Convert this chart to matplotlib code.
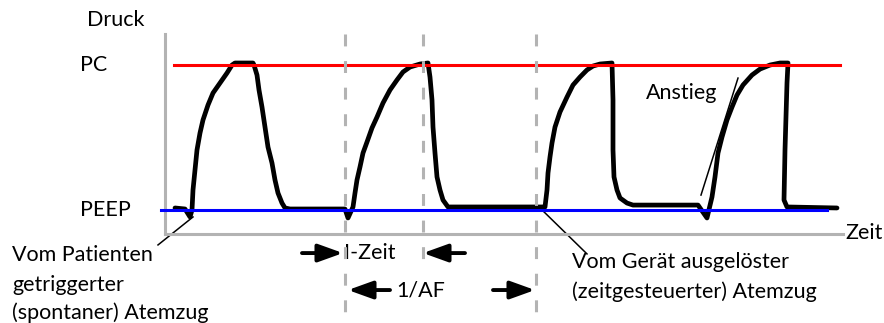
import matplotlib
matplotlib.use('Agg')
import matplotlib.pyplot as plt

plt.rcParams['font.family'] = ['Lato', 'DejaVu Sans']

## Druckkurve (Zeit, Druck relativ: PEEP = 0, PC = 10)
zeit = [1.0, 2.0, 2.5, 2.7, 2.8, 3.0, 3.2, 3.5, 3.8, 4.3, 4.8, 5.5, 6.2, 6.7, 7.0,
        8.8, 8.9, 9.2, 9.4, 9.7, 10.0, 10.3, 10.7, 11.0, 11.3, 11.7, 12.0, 12.5,
        18.0, 18.3, 18.8, 19.0, 19.2, 19.5, 19.8, 20.2, 20.7, 21.2, 21.8, 22.5, 23.2,
        23.8, 24.5, 25.5, 26.3, 26.5, 26.7, 26.8, 27.0, 27.2, 27.5, 27.8, 28.3,
        37.8, 38.0, 38.2, 38.3, 38.5, 38.7, 39.0, 39.5, 40.2, 40.8, 41.5, 42.2, 42.8,
        43.5, 44.7, 44.8, 44.8, 44.9, 45.2, 45.5, 46.2, 46.8,
        53.3, 54.2, 54.7, 55.0, 55.3, 55.7, 56.2, 56.7, 57.2, 57.8, 58.7, 59.5, 60.5,
        61.5, 62.3, 62.2, 62.0, 61.9, 62.2, 67.2]
druck = [0.14, 0.07, -0.48, 0.0, 1.38, 2.76, 4.14, 5.31, 6.21, 7.24, 8.07, 8.76, 9.45,
         10.0, 10.14,
         10.14, 10.0, 9.31, 8.28, 7.10, 5.72, 4.34, 3.24, 2.07, 1.17, 0.48, 0.14, 0.07,
         0.07, -0.55, 0.21, 1.17, 2.07, 2.97, 3.93, 4.69, 5.66, 6.41, 7.38, 8.28, 8.97,
         9.52, 9.86, 10.07, 10.14, 9.17, 7.59, 5.72, 3.93, 2.28, 1.38, 0.69, 0.21,
         0.21, 0.21, 1.38, 2.55, 3.66, 4.62, 5.72, 6.76, 7.79, 8.62, 9.17, 9.66, 9.93,
         10.07, 10.14, 7.59, 4.14, 2.28, 1.38, 0.83, 0.48, 0.34,
         0.34, -0.55, 0.90, 2.28, 3.93, 5.03, 6.21, 7.10, 7.93, 8.62, 9.31, 9.72, 10.0,
         10.14, 10.14, 8.76, 4.14, 0.69, 0.21, 0.14]

pc = 10.0
peep = 0.0
pc_bereich = [0.9, 67.5]
peep_bereich = [-0.4, 66.2]
marken = [18.0, 25.8, 37.1]          # gestrichelte Zeitmarken
marken_unten = [-7.8, -3.6, -7.8]
anstieg_t = [53.6, 57.3]
anstieg_p = [1.03, 9.10]

fig = plt.figure(figsize=(8.84, 3.23), dpi=100)
ax = fig.add_axes([165/884, 1-234/323, (843-165)/884, 200/323])
ax.set_xlim(0, 67.8)
ax.set_ylim(-1.655, 12.14)
for s in ['top', 'right']:
    ax.spines[s].set_visible(False)
for s in ['left', 'bottom']:
    ax.spines[s].set_color('#b3b3b3')
    ax.spines[s].set_linewidth(2.2)
ax.set_xticks([])
ax.set_yticks([])

grau = '#b3b3b3'
for m, u in zip(marken, marken_unten):
    ax.plot([m, m], [12.14, u], color=grau, lw=2.2, dashes=(3.9, 4.8),
            clip_on=False, zorder=4)

ax.plot(zeit, druck, color='black', lw=3.4, solid_joinstyle='round',
        solid_capstyle='round', zorder=2)
ax.plot(pc_bereich, [pc, pc], color='#ff0000', lw=2.2, clip_on=False, zorder=3)
ax.plot(peep_bereich, [peep, peep], color='#0000ff', lw=2.2, clip_on=False, zorder=3)
ax.plot(anstieg_t, anstieg_p, color='black', lw=1.1, zorder=3)

fs = 15.5
ax.text(-4.9, 13.1, 'Druck', fontsize=fs, ha='center', va='center')
ax.text(-8.5, pc, 'PC', fontsize=fs, ha='left', va='center')
ax.text(-8.5, peep, 'PEEP', fontsize=fs, ha='left', va='center')
ax.text(68.0, -1.59, 'Zeit', fontsize=fs, ha='left', va='center')
ax.text(48.1, 8.07, 'Anstieg', fontsize=fs, ha='left', va='center')

## Beschriftung Patient
for z, txt in zip([-3.1, -5.17, -7.1], ['Vom Patienten', 'getriggerter', '(spontaner) Atemzug']):
    ax.text(-15.3, z, txt, fontsize=fs, ha='left', va='center')
ax.plot([-0.7, 2.8], [-2.41, -0.48], color='black', lw=1.1, clip_on=False)

## Beschriftung Gerät
for z, txt in zip([-3.59, -5.66], ['Vom Gerät ausgelöster', '(zeitgesteuerter) Atemzug']):
    ax.text(40.7, z, txt, fontsize=fs, ha='left', va='center')
ax.plot([37.5, 42.2], [0.14, -3.03], color='black', lw=1.1, clip_on=False)

## Pfeile I-Zeit und 1/AF
pfeil = dict(arrowstyle='-|>,head_length=0.75,head_width=0.27', color='black',
             lw=2.8, mutation_scale=20, shrinkA=0, shrinkB=0)
for (a, b, y) in [(13.7, 17.8, -2.97), (30.0, 25.8, -2.97),
                  (22.5, 18.3, -5.52), (32.8, 37.0, -5.52)]:
    ax.annotate('', xy=(b, y), xytext=(a, y), arrowprops=pfeil, annotation_clip=False)
ax.text(20.5, -2.97, 'I-Zeit', fontsize=fs, ha='center', va='center')
ax.text(25.6, -5.52, '1/AF', fontsize=fs, ha='center', va='center')

plt.savefig('out.png', dpi=100)
